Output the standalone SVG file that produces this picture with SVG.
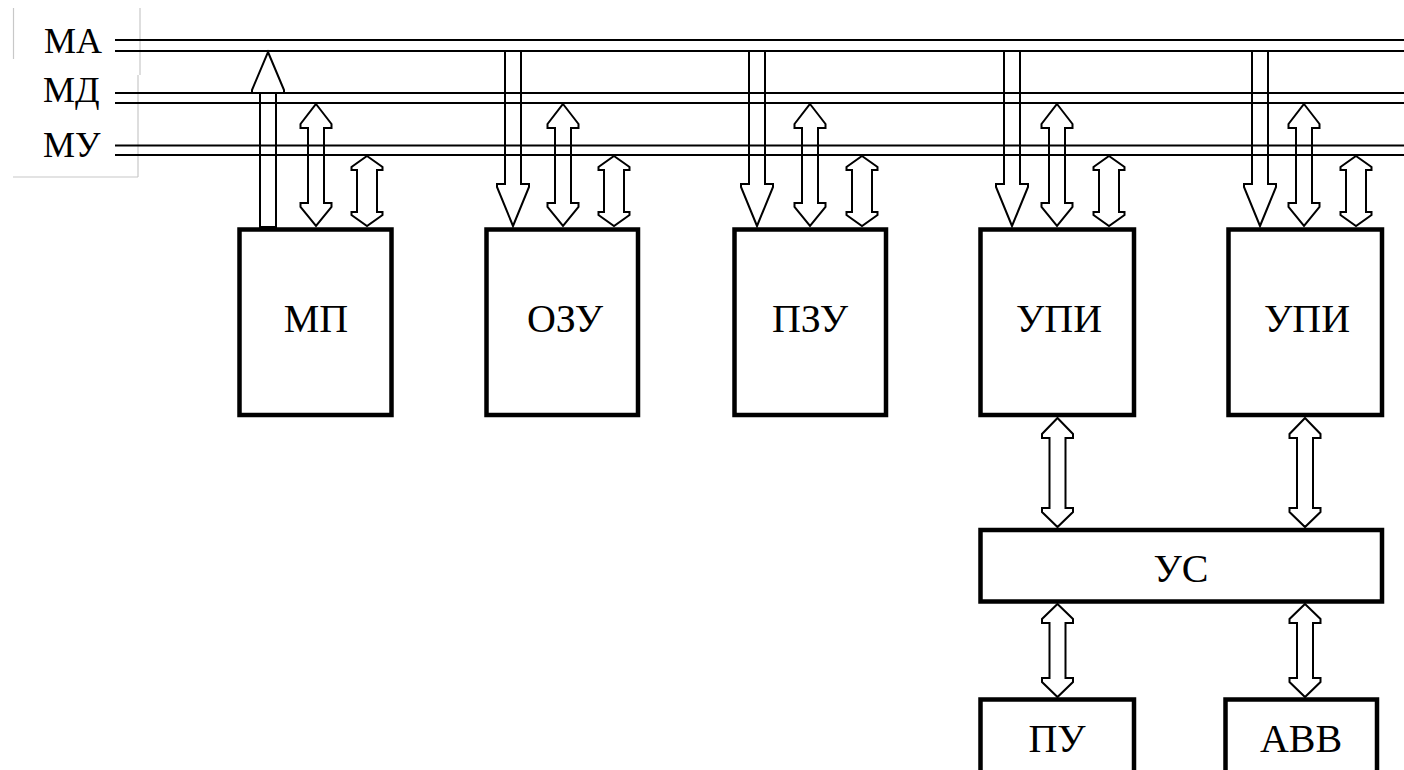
<svg xmlns="http://www.w3.org/2000/svg" width="1404" height="770" viewBox="0 0 1404 770">
<style>
.bus{stroke:#000;stroke-width:2;fill:none}
.box{fill:#fff;stroke:#000;stroke-width:4.5}
.arr{fill:none;stroke:#000;stroke-width:2;stroke-linejoin:miter}
.frame{stroke:#c8c8c8;stroke-width:1.2;fill:none}
.lbl{font-family:"Liberation Serif","Times New Roman",serif;font-size:36px;fill:#000}
.txt{font-family:"Liberation Serif","Times New Roman",serif;font-size:40px;fill:#000;text-anchor:middle}
</style>
<rect x="0" y="0" width="1404" height="770" fill="#fff"/>
<g id="labels">
<path class="frame" d="M13.5,8 V59 M140,8 V75 M138,75 V177 M13,177 H138"/>
<text class="lbl" x="44" y="52.5">МА</text>
<text class="lbl" x="43" y="102">МД</text>
<text class="lbl" x="43" y="156.5">МУ</text>
</g>
<g id="bus">
<line class="bus" x1="115" y1="40" x2="1404" y2="40"/>
<line class="bus" x1="115" y1="51" x2="1404" y2="51"/>
<line class="bus" x1="115" y1="93" x2="1404" y2="93"/>
<line class="bus" x1="115" y1="103" x2="1404" y2="103"/>
<line class="bus" x1="115" y1="145.5" x2="1404" y2="145.5"/>
<line class="bus" x1="115" y1="155" x2="1404" y2="155"/>
</g>
<g id="connectors">
<!-- MP address (up) -->
<polygon class="arr" points="268,52 284,90 284,93 276,93 276,227 260,227 260,93 252,93 252,90"/>
<!-- down address arrows -->
<polygon class="arr" points="505,51 521,51 521,184 529,184 529,187 513,226 497,187 497,184 505,184"/>
<polygon class="arr" points="749,51 765,51 765,184 773,184 773,187 757,226 741,187 741,184 749,184"/>
<polygon class="arr" points="1004,51 1020,51 1020,184 1028,184 1028,187 1012,226 996,187 996,184 1004,184"/>
<polygon class="arr" points="1252,51 1268,51 1268,184 1276,184 1276,187 1260,226 1244,187 1244,184 1252,184"/>
<!-- MD double arrows -->
<polygon class="arr" points="316,104 331.5,124 331.5,128 324,128 324,203 331.5,203 331.5,207 316,226 300.5,207 300.5,203 308,203 308,128 300.5,128 300.5,124"/>
<polygon class="arr" points="563,104 578.5,124 578.5,128 571,128 571,203 578.5,203 578.5,207 563,226 547.5,207 547.5,203 555,203 555,128 547.5,128 547.5,124"/>
<polygon class="arr" points="810,104 825.5,124 825.5,128 818,128 818,203 825.5,203 825.5,207 810,226 794.5,207 794.5,203 802,203 802,128 794.5,128 794.5,124"/>
<polygon class="arr" points="1057,104 1072.5,124 1072.5,128 1065,128 1065,203 1072.5,203 1072.5,207 1057,226 1041.5,207 1041.5,203 1049,203 1049,128 1041.5,128 1041.5,124"/>
<polygon class="arr" points="1304,104 1319.5,124 1319.5,128 1312,128 1312,203 1319.5,203 1319.5,207 1304,226 1288.5,207 1288.5,203 1296,203 1296,128 1288.5,128 1288.5,124"/>
<!-- MU double arrows -->
<polygon class="arr" points="367,156 382.5,167 382.5,170 377,170 377,212 382.5,212 382.5,215 367,226 351.5,215 351.5,212 357,212 357,170 351.5,170 351.5,167"/>
<polygon class="arr" points="614,156 629.5,167 629.5,170 624,170 624,212 629.5,212 629.5,215 614,226 598.5,215 598.5,212 604,212 604,170 598.5,170 598.5,167"/>
<polygon class="arr" points="862,156 877.5,167 877.5,170 872,170 872,212 877.5,212 877.5,215 862,226 846.5,215 846.5,212 852,212 852,170 846.5,170 846.5,167"/>
<polygon class="arr" points="1109,156 1124.5,167 1124.5,170 1119,170 1119,212 1124.5,212 1124.5,215 1109,226 1093.5,215 1093.5,212 1099,212 1099,170 1093.5,170 1093.5,167"/>
<polygon class="arr" points="1356,156 1371.5,167 1371.5,170 1366,170 1366,212 1371.5,212 1371.5,215 1356,226 1340.5,215 1340.5,212 1346,212 1346,170 1340.5,170 1340.5,167"/>
<!-- UPI - US -->
<polygon class="arr" points="1057.5,418 1073,434 1073,438 1065.5,438 1065.5,508 1073,508 1073,512 1057.5,527 1042,512 1042,508 1049.5,508 1049.5,438 1042,438 1042,434"/>
<polygon class="arr" points="1305,418 1320.5,434 1320.5,438 1313,438 1313,508 1320.5,508 1320.5,512 1305,527 1289.5,512 1289.5,508 1297,508 1297,438 1289.5,438 1289.5,434"/>
<!-- US - PU / ABB -->
<polygon class="arr" points="1057.5,604 1073,619 1073,623 1065.5,623 1065.5,678 1073,678 1073,682 1057.5,697 1042,682 1042,678 1049.5,678 1049.5,623 1042,623 1042,619"/>
<polygon class="arr" points="1305,604 1320.5,619 1320.5,623 1313,623 1313,678 1320.5,678 1320.5,682 1305,697 1289.5,682 1289.5,678 1297,678 1297,623 1289.5,623 1289.5,619"/>
</g>
<g id="mp"><rect class="box" x="239.5" y="229.5" width="152" height="185.5"/><text class="txt" x="316" y="332">МП</text></g>
<g id="ozu"><rect class="box" x="486.5" y="229.5" width="151.5" height="185.5"/><text class="txt" x="565" y="332">ОЗУ</text></g>
<g id="pzu"><rect class="box" x="734.5" y="229.5" width="151.5" height="185.5"/><text class="txt" x="810" y="332">ПЗУ</text></g>
<g id="upi1"><rect class="box" x="980.5" y="229.5" width="153.5" height="185.5"/><text class="txt" x="1059" y="332">УПИ</text></g>
<g id="upi2"><rect class="box" x="1228.5" y="229.5" width="153.5" height="185.5"/><text class="txt" x="1307" y="332">УПИ</text></g>
<g id="us"><rect class="box" x="980.5" y="530" width="401.5" height="71.5"/><text class="txt" x="1181" y="582">УС</text></g>
<g id="pu"><rect class="box" x="980.5" y="699.5" width="153.5" height="80"/><text class="txt" x="1057" y="752">ПУ</text></g>
<g id="abb"><rect class="box" x="1225.5" y="699.5" width="151.5" height="80"/><text class="txt" x="1301" y="752">АВВ</text></g>
</svg>
